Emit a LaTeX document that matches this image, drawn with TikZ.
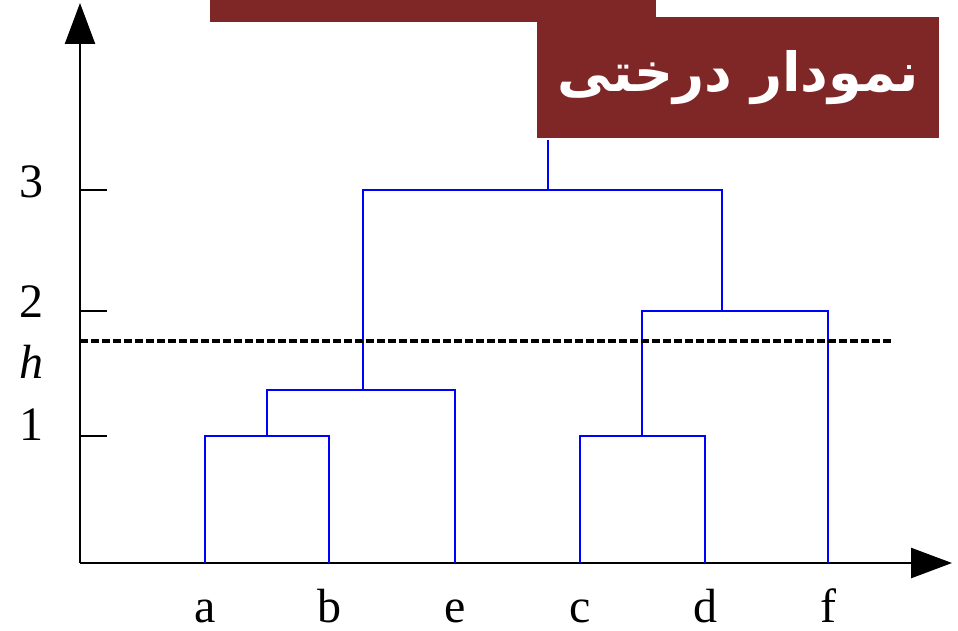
\documentclass[tikz,border=0pt]{standalone}
\usepackage{fontspec}
\setmainfont{Liberation Serif}
\newfontfamily\persianfont[Script=Arabic]{DejaVu Sans}
\TeXXeTstate=1
\usepackage{xcolor}
\usepackage{tikz}
\usetikzlibrary{arrows.meta}

\definecolor{bannerred}{RGB}{127,39,39}
\newcommand{\bigserif}{\fontsize{48}{58}\selectfont}

\begin{document}
\begin{tikzpicture}[
    x=1pt, y=-1pt,
    % ---- axes ----
    axis/.style={line width=2.5pt, black,
        -{Triangle[length=41pt, width=30pt]}},
    ticks/.style={line width=1.5pt, black},
    % ---- dendrogram links ----
    link/.style={line width=2pt, blue},
    % ---- cut height h ----
    cutline/.style={line width=4pt, dash pattern=on 8pt off 3pt},
    % ---- labels ----
    leaf/.style={anchor=base, inner sep=0pt, font=\bigserif},
    ylab/.style={anchor=base, inner sep=0pt, font=\bigserif},
    % ---- title banner ----
    banner/.style={fill=bannerred, anchor=north west, inner sep=0pt,
        text=white, font=\persianfont\bfseries\fontsize{54}{64}\selectfont}
]
\useasboundingbox (0,0) rectangle (958,631);

% ---------- axes ----------
\coordinate (O) at (80,563);
\coordinate (ytip) at (80,3);
\coordinate (xtip) at (952,563);
\draw[axis] (O) -- (ytip);
\draw[axis] (O) -- (xtip);

% ---------- y ticks ----------
\foreach \v/\yy in {1/436, 2/311, 3/190}
    \draw[ticks] (80,\yy) -- (107,\yy);

\node[ylab] (y3) at (31,197) {3};
\node[ylab] (y2) at (31,317) {2};
\node[ylab] (yh) at (31,378) {\itshape h};
\node[ylab] (y1) at (31,440) {1};

% ---------- leaves ----------
\node[leaf] (a) at (205,622) {a};
\node[leaf] (b) at (329,622) {b};
\node[leaf] (e) at (455,622) {e};
\node[leaf] (c) at (580,622) {c};
\node[leaf] (d) at (705,622) {d};
\node[leaf] (f) at (828,622) {f};

\foreach \n/\xx in {a/205, b/329, e/455, c/580, d/705, f/828}
    \coordinate (l\n) at (\xx,563);

% ---------- merges ----------
\coordinate (ab)   at (267,436);
\coordinate (abe)  at (363,390);
\coordinate (cd)   at (642,436);
\coordinate (cdf)  at (722,311);
\coordinate (root) at (548,190);
\coordinate (top)  at (548,140);

\draw[link] (la) |- (ab) -| (lb);
\draw[link] (ab) |- (abe) -| (le);
\draw[link] (lc) |- (cd) -| (ld);
\draw[link] (cd) |- (cdf) -| (lf);
\draw[link] (abe) |- (root) -| (cdf);
\draw[link] (root) -- (top);

% ---------- cut at h ----------
\coordinate (h0) at (80,341);
\coordinate (h1) at (893,341);
\draw[cutline] (h0) -- (h1);

% ---------- banners ----------
\node[banner, minimum width=446pt, minimum height=22pt] (topbar) at (210,0) {};
\node[banner, minimum width=402pt, minimum height=121pt] (title) at (537,17)
    {\beginR نمودار درختی\endR};

\end{tikzpicture}
\end{document}
